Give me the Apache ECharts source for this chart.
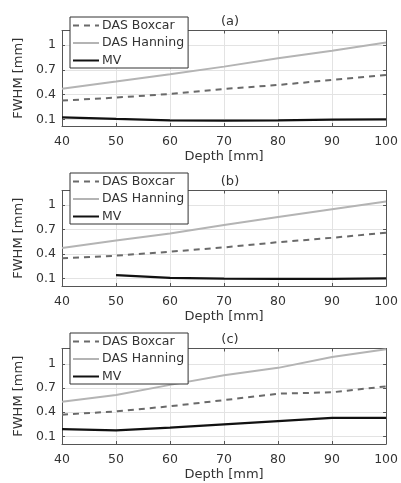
<!DOCTYPE html>
<html>
<head>
<meta charset="utf-8">
<script src="https://cdn.jsdelivr.net/npm/echarts@6/dist/echarts.min.js"></script>
<style>html,body{margin:0;padding:0;background:#fff}#c{width:401px;height:483px}</style>
</head>
<body>
<div id="c"></div>
<script>
var depths = [40, 50, 60, 70, 80, 90, 100];
var xTicks = [40, 50, 60, 70, 80, 90, 100];
var yTicks = [0.1, 0.4, 0.7, 1];
var panelTitles = ['(a)', '(b)', '(c)'];
var seriesNames = ['DAS Boxcar', 'DAS Hanning', 'MV'];

var boxcarA  = [0.327, 0.364, 0.407, 0.468, 0.516, 0.577, 0.637];
var hanningA = [0.470, 0.557, 0.645, 0.738, 0.840, 0.930, 1.030];
var mvA      = [0.125, 0.105, 0.089, 0.085, 0.089, 0.097, 0.100];

var boxcarB  = [0.345, 0.378, 0.427, 0.480, 0.544, 0.598, 0.660];
var hanningB = [0.473, 0.564, 0.651, 0.755, 0.855, 0.950, 1.046];
var mvB      = [null, 0.140, 0.104, 0.095, 0.092, 0.092, 0.100];

var boxcarC  = [0.370, 0.410, 0.474, 0.550, 0.630, 0.647, 0.720];
var hanningC = [0.530, 0.613, 0.739, 0.857, 0.950, 1.084, 1.180];
var mvC      = [0.190, 0.176, 0.210, 0.250, 0.290, 0.330, 0.330];

var panels = [
  {b: boxcarA, h: hanningA, m: mvA, top: 30.5, ymin: 0.02, ymax: 1.175, legendTop: 17},
  {b: boxcarB, h: hanningB, m: mvB, top: 190.5, ymin: 0.005, ymax: 1.18, legendTop: 173},
  {b: boxcarC, h: hanningC, m: mvC, top: 348.5, ymin: 0.006, ymax: 1.19, legendTop: 333}
];

var FONT = 'DejaVu Sans';
var TXT = '#333';
var AXC = '#555';
var GRIDC = '#e3e3e3';
var plotH = 95.5;

function pairs(vals) {
  var out = [];
  for (var i = 0; i < depths.length; i++) {
    if (vals[i] !== null) out.push([depths[i], vals[i]]);
  }
  return out;
}

var grid = [], xAxis = [], yAxis = [], series = [], legend = [], title = [];
panels.forEach(function (p, k) {
  grid.push({left: 62, right: 13, top: p.top, height: plotH, show: false});
  xAxis.push({
    type: 'value', gridIndex: k, min: 40, max: 100, interval: 10, position: 'bottom',
    name: 'Depth [mm]', nameLocation: 'middle', nameGap: 24,
    nameTextStyle: {fontFamily: FONT, fontSize: 13, color: TXT},
    axisLine: {show: true, lineStyle: {color: AXC, width: 1}},
    axisTick: {show: true, inside: true, length: 3, lineStyle: {color: AXC}},
    axisLabel: {fontFamily: FONT, fontSize: 12.5, color: TXT, margin: 9},
    splitLine: {show: true, lineStyle: {color: GRIDC, width: 1}}
  });
  xAxis.push({
    type: 'value', gridIndex: k, min: 40, max: 100, interval: 10, position: 'top',
    axisLine: {show: true, lineStyle: {color: AXC, width: 1}},
    axisTick: {show: true, inside: true, length: 3, lineStyle: {color: AXC}},
    axisLabel: {show: false}, splitLine: {show: false}
  });
  yAxis.push({
    type: 'value', gridIndex: k, min: p.ymin, max: p.ymax, position: 'left',
    name: 'FWHM [mm]', nameLocation: 'middle', nameGap: 31, nameRotate: 90,
    nameTextStyle: {fontFamily: FONT, fontSize: 13, color: TXT},
    axisLine: {show: true, lineStyle: {color: AXC, width: 1}},
    axisTick: {show: true, inside: true, length: 3, customValues: yTicks, lineStyle: {color: AXC}},
    axisLabel: {fontFamily: FONT, fontSize: 12.5, color: TXT, margin: 6, customValues: yTicks,
      formatter: function (v) { return String(Math.round(v * 10) / 10); }},
    splitLine: {show: true, lineStyle: {color: GRIDC, width: 1}}
  });
  yAxis.push({
    type: 'value', gridIndex: k, min: p.ymin, max: p.ymax, position: 'right',
    axisLine: {show: true, lineStyle: {color: AXC, width: 1}},
    axisTick: {show: true, inside: true, length: 3, customValues: yTicks, lineStyle: {color: AXC}},
    axisLabel: {show: false, customValues: yTicks}, splitLine: {show: false}
  });
  var xi = k * 2, yi = k * 2;
  var nm = function (s) { return s + (k === 0 ? '' : '\u200b'.repeat(k)); };
  series.push({
    name: nm(seriesNames[0]), type: 'line', xAxisIndex: xi, yAxisIndex: yi, data: pairs(p.b),
    symbol: 'none', z: 3,
    lineStyle: {color: '#6a6a6a', width: 2, type: [6, 5]}, itemStyle: {color: '#6a6a6a'}
  });
  series.push({
    name: nm(seriesNames[1]), type: 'line', xAxisIndex: xi, yAxisIndex: yi, data: pairs(p.h),
    symbol: 'none', z: 3,
    lineStyle: {color: '#b4b4b4', width: 2}, itemStyle: {color: '#b4b4b4'}
  });
  series.push({
    name: nm(seriesNames[2]), type: 'line', xAxisIndex: xi, yAxisIndex: yi, data: pairs(p.m),
    symbol: 'none', z: 4, connectNulls: false,
    lineStyle: {color: '#111', width: 2.2}, itemStyle: {color: '#111'}
  });
  legend.push({
    data: seriesNames.map(nm), orient: 'vertical', left: 70, top: p.legendTop,
    itemWidth: 26, itemHeight: 12, itemGap: 4.5, padding: [2, 4, 1, 2],
    backgroundColor: '#fff', borderColor: '#333', borderWidth: 1, z: 10,
    selectedMode: false,
    itemStyle: {opacity: 0, borderWidth: 0},
    textStyle: {fontFamily: FONT, fontSize: 12.5, color: TXT, padding: [0, 0, 0, -2]},
    formatter: function (n) { return n.replace(/\u200b/g, ''); }
  });
  title.push({
    text: panelTitles[k], left: 225, top: p.top - 20, textAlign: 'center',
    textStyle: {fontFamily: FONT, fontSize: 13, fontWeight: 'normal', color: TXT}
  });
});

var chart = echarts.init(document.getElementById('c'), null, {renderer: 'canvas'});
chart.setOption({
  animation: false, backgroundColor: '#fff',
  title: title, legend: legend, grid: grid, xAxis: xAxis, yAxis: yAxis, series: series
});
</script>
</body>
</html>
